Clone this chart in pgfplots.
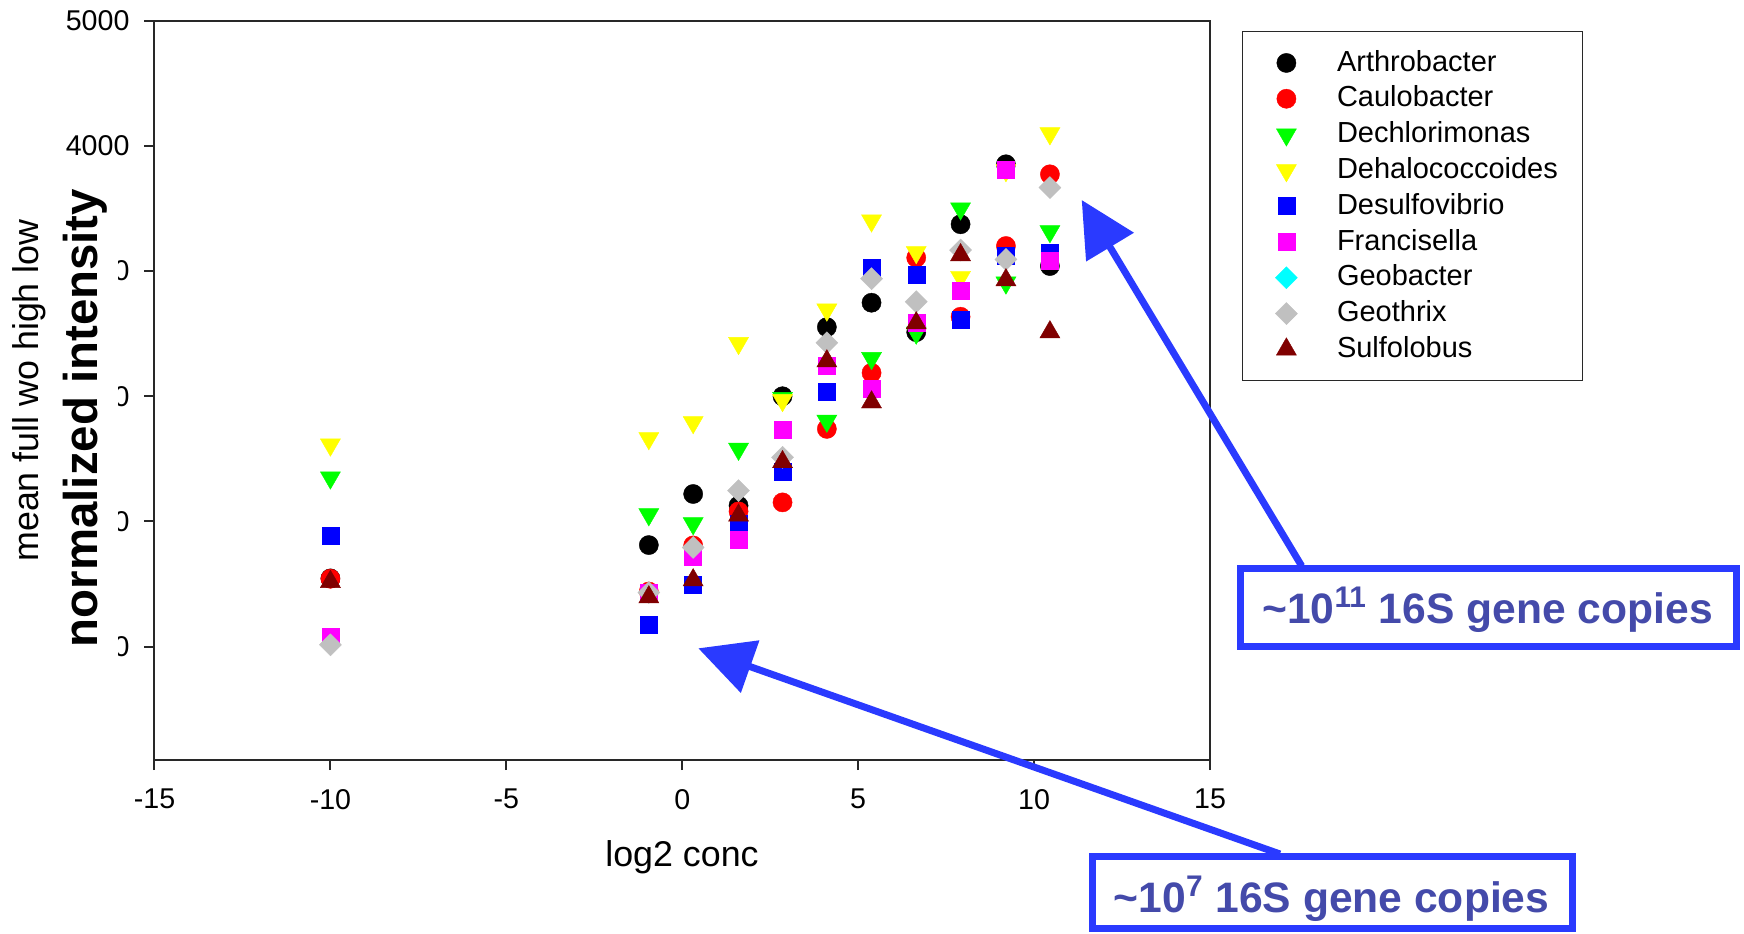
\documentclass[border=0pt]{standalone}
\usepackage{fontspec}
\setmainfont{Liberation Sans}
\usepackage{pgfplots}
\pgfplotsset{compat=1.18}
\usetikzlibrary{arrows.meta}
\definecolor{annblue}{RGB}{42,58,255}
\definecolor{anntext}{RGB}{68,74,170}
\definecolor{darkred}{RGB}{128,0,0}
\definecolor{mkgray}{RGB}{192,192,192}
\definecolor{mkred}{RGB}{255,0,0}
\definecolor{mkgreen}{RGB}{0,255,0}
\definecolor{mkyellow}{RGB}{255,255,0}
\definecolor{mkblue}{RGB}{0,0,255}
\definecolor{mkmagenta}{RGB}{255,0,255}
\definecolor{mkcyan}{RGB}{0,255,255}
\definecolor{axisgray}{RGB}{40,40,40}
\begin{document}
\begin{tikzpicture}
\useasboundingbox (-77.25pt,-86.5pt) rectangle (794.75pt,380pt);
\begin{axis}[
  at={(0,0)}, anchor=south west,
  scale only axis, width=527.75pt, height=369.65pt,
  xmin=-15, xmax=15, ymin=-906, ymax=5000,
  xtick={-15,-10,...,15}, ytick={0,1000,...,5000},
  tick align=outside, tick pos=left,
  major tick length=5pt,
  axis line style={axisgray, line width=1pt},
  every tick/.style={axisgray, line width=1pt},
  tick label style={font=\fontsize{14.3}{16}\selectfont, black},
  xticklabel shift=6pt, yticklabel shift=4pt,
  /pgf/number format/assume math mode=true,
  /pgf/number format/1000 sep={},
  scaled ticks=false,
  clip=false,
  legend cell align=left,
  legend image code/.code={\path (0pt,0pt) (24pt,0pt); \draw[mark repeat=2,mark phase=2,#1] plot coordinates {(0pt,0pt)(12pt,0pt)(24pt,0pt)};},
  legend style={at={(1.0305,0.986)}, anchor=north west, draw=axisgray, line width=0.6pt,
    inner xsep=9.5pt, inner ysep=6.7pt, font=\fontsize{14.5}{17}\selectfont,
    row sep=0pt, column sep=10pt,
    nodes={inner xsep=3pt, inner ysep=0pt, text height=13pt, text depth=4.9pt}},
]
\addplot[only marks, mark=*, mark size=4.8pt, color=black, mark options={line width=0.2pt}] table {
x y
-10 545
-0.95 811
0.31 1219
1.60 1126
2.85 2000
4.11 2552
5.38 2747
6.65 2512
7.91 3374
9.20 3853
10.45 3040
};
\addlegendentry{Arthrobacter}
\addplot[only marks, mark=*, mark size=4.8pt, color=mkred, mark options={line width=0.2pt}] table {
x y
-10 542
-0.95 440
0.31 808
1.60 1080
2.85 1152
4.11 1739
5.38 2187
6.65 3107
7.91 2635
9.20 3200
10.45 3773
};
\addlegendentry{Caulobacter}
\addplot[only marks, mark=triangle*, mark size=5.8pt, color=mkgreen, mark options={rotate=180, line width=0.2pt}] table {
x y
-10 1350
-0.95 1056
0.31 984
1.60 1579
2.85 1985
4.11 1803
5.38 2304
6.65 2507
7.91 3499
9.20 2907
10.45 3317
};
\addlegendentry{Dechlorimonas}
\addplot[only marks, mark=triangle*, mark size=5.8pt, color=mkyellow, mark options={rotate=180, line width=0.2pt}] table {
x y
-10 1613
-0.95 1664
0.31 1792
1.60 2424
2.85 1968
4.11 2691
5.38 3403
6.65 3150
7.91 2952
9.20 3805
10.45 4099
};
\addlegendentry{Dehalococcoides}
\addplot[only marks, mark=square*, mark size=4.25pt, color=mkblue, mark options={line width=0.2pt}] table {
x y
-10 883
-0.95 174
0.31 496
1.60 980
2.85 1400
4.11 2038
5.38 3030
6.65 2971
7.91 2611
9.20 3120
10.45 3150
};
\addlegendentry{Desulfovibrio}
\addplot[only marks, mark=square*, mark size=4.25pt, color=mkmagenta, mark options={line width=0.2pt}] table {
x y
-10 80
-0.95 430
0.31 715
1.60 851
2.85 1731
4.11 2245
5.38 2064
6.65 2587
7.91 2843
9.20 3808
10.45 3086
};
\addlegendentry{Francisella}
\addlegendimage{only marks, mark=square*, mark size=3.9pt, color=mkcyan, mark options={rotate=45, line width=0.2pt}}
\addlegendentry{Geobacter}
\addplot[only marks, mark=square*, mark size=3.9pt, color=mkgray, mark options={rotate=45, line width=0.2pt}] table {
x y
-10 14
-0.95 432
0.31 792
1.60 1246
2.85 1512
4.11 2427
5.38 2939
6.65 2755
7.91 3168
9.20 3093
10.45 3667
};
\addlegendentry{Geothrix}
\addplot[only marks, mark=triangle*, mark size=5.8pt, color=darkred, mark options={line width=0.2pt}] table {
x y
-10 518
-0.95 395
0.31 531
1.60 1048
2.85 1475
4.11 2280
5.38 1952
6.65 2584
7.91 3128
9.20 2928
10.45 2512
};
\addlegendentry{Sulfolobus}
\end{axis}
\begin{scope}[x=0.5pt,y=-0.5pt,shift={(-77.25pt,380pt)}]
\fill[white] (45,172) rectangle (118,662);
\node[rotate=90, anchor=base, font=\bfseries\fontsize{23.7}{28}\selectfont, inner sep=0pt] at (98,418) {normalized intensity};
\node[rotate=90, anchor=base, font=\fontsize{17.9}{20}\selectfont, inner sep=0pt] at (39,390.5) {mean full wo high low};
\node[anchor=base, font=\fontsize{17.9}{20}\selectfont, inner sep=0pt] at (682,866) {log2 conc};
\draw[annblue, line width=3.5pt, -{Triangle[length=27.5pt,width=27pt]}] (1301.7,566) -- (1081.7,200);
\draw[annblue, line width=3.5pt, -{Triangle[length=27.5pt,width=27pt]}] (1280,854) -- (698.3,648.3);
\draw[annblue, line width=3.5pt, fill=white] (1240.2,568.5) rectangle (1736.5,646.5);
\node[anchor=base, text=anntext, font=\bfseries\fontsize{21.3}{25}\selectfont, inner sep=0pt] at (1487.5,623) {\textasciitilde10\textsuperscript{11} 16S gene copies};
\draw[annblue, line width=3.5pt, fill=white] (1092.5,856.5) rectangle (1572.5,928.5);
\node[anchor=base, text=anntext, font=\bfseries\fontsize{21.3}{25}\selectfont, inner sep=0pt] at (1331.5,912) {\textasciitilde10\textsuperscript{7} 16S gene copies};
\end{scope}
\end{tikzpicture}
\end{document}
